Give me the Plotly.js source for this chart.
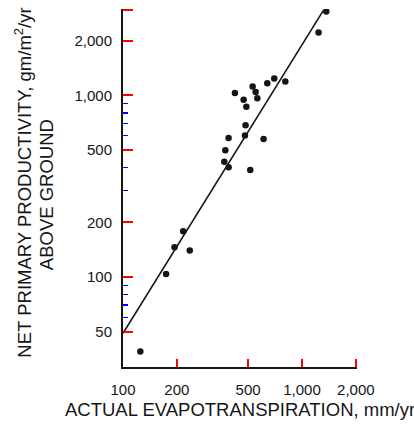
<!DOCTYPE html>
<html>
<head>
<meta charset="utf-8">
<script src="https://cdn.plot.ly/plotly-3.0.1.min.js"></script>
<style>
html,body{margin:0;padding:0;background:#fff;}
#chart{width:414px;height:434px;}
</style>
</head>
<body>
<div id="chart"></div>
<script>
// Observed sites: actual evapotranspiration (mm/yr) vs above-ground NPP (gm/m2/yr)
const aetValues = [125, 174, 194, 217, 236, 368, 389, 373, 389, 422, 472, 489, 484, 480, 514, 530, 551, 563, 610, 640, 700, 807, 1238, 1367];
const nppValues = [39, 104, 146, 179, 140, 432, 402, 499, 583, 1031, 947, 867, 686, 601, 389, 1120, 1044, 965, 575, 1167, 1240, 1194, 2219, 2896];

// Regression line end points
const fitX = [100, 1320];
const fitY = [49, 2950];

// Axis ticks
const xTickVals = [100, 200, 500, 1000, 2000];
const xTickText = ["100", "200", "500", "1,000", "2,000"];
const yTickVals = [50, 100, 200, 500, 1000, 2000];
const yTickText = ["50", "100", "200", "500", "1,000", "2,000"];
const yMarkVals = [50, 100, 200, 500, 1000, 2000, 2950];
const yMinorVals = [60, 70, 80, 90, 300, 400, 600, 700, 800, 900];

const xTitle = "ACTUAL EVAPOTRANSPIRATION, mm/yr";
const yTitleLine1 = "NET PRIMARY PRODUCTIVITY, gm/m<sup>2</sup>/yr";
const yTitleLine2 = "ABOVE GROUND";

const ink = "#151515";
const textInk = "#161616";
const font = "Liberation Sans, Arial, Helvetica, sans-serif";
const xMin = 100, xMax = 2030, yMin = 32, yMax = 2990;
const xRange = [Math.log10(xMin), Math.log10(xMax)];
const yRange = [Math.log10(yMin), Math.log10(yMax)];
const clear = "rgba(0,0,0,0)";

const traces = [
  {x: fitX, y: fitY, type: "scatter", mode: "lines", line: {color: ink, width: 1.6}},
  {x: aetValues, y: nppValues, type: "scatter", mode: "markers", marker: {color: ink, size: 6.5}},
  {x: [100], y: [100], xaxis: "x2", yaxis: "y2", type: "scatter", mode: "markers", marker: {opacity: 0, size: 1}},
  {x: [100], y: [100], xaxis: "x", yaxis: "y3", type: "scatter", mode: "markers", marker: {opacity: 0, size: 1}}
];

const labelFont = {family: font, size: 15, color: textInk};
const titleFont = {family: font, size: 18.5, color: textInk};

const layout = {
  width: 414, height: 434,
  margin: {l: 123, r: 57, t: 9, b: 67, pad: 0},
  showlegend: false,
  xaxis: {
    type: "log", range: xRange,
    tickmode: "array", tickvals: xTickVals,
    ticks: "inside", ticklen: 8, tickwidth: 2, tickcolor: "red",
    showticklabels: false,
    showline: true, linecolor: ink, linewidth: 2, showgrid: false, zeroline: false
  },
  yaxis: {
    type: "log", range: yRange,
    tickmode: "array", tickvals: yMarkVals,
    ticks: "inside", ticklen: 10, tickwidth: 2, tickcolor: "red",
    showticklabels: false,
    showline: true, linecolor: ink, linewidth: 2, showgrid: false, zeroline: false
  },
  xaxis2: {
    type: "log", range: xRange, overlaying: "x", anchor: "y2", side: "bottom",
    tickmode: "array", tickvals: xTickVals, ticktext: xTickText,
    ticks: "outside", ticklen: 9, tickcolor: clear, tickfont: labelFont,
    showline: false, showgrid: false, zeroline: false
  },
  yaxis2: {
    type: "log", range: yRange, overlaying: "y", anchor: "x2", side: "left",
    tickmode: "array", tickvals: yTickVals, ticktext: yTickText,
    ticks: "outside", ticklen: 7, tickcolor: clear, tickfont: labelFont,
    showline: false, showgrid: false, zeroline: false
  },
  yaxis3: {
    type: "log", range: yRange, overlaying: "y", anchor: "x", side: "left",
    tickmode: "array", tickvals: yMinorVals,
    ticks: "inside", ticklen: 5, tickwidth: 1.5, tickcolor: "blue",
    showticklabels: false, showline: false, showgrid: false, zeroline: false
  },
  annotations: [
    {
      text: yTitleLine1, xref: "paper", yref: "paper", x: 0, y: 0.515,
      xanchor: "center", yanchor: "middle", xshift: -100, textangle: -90,
      showarrow: false, font: titleFont
    },
    {
      text: yTitleLine2, xref: "paper", yref: "paper", x: 0, y: 0.48,
      xanchor: "center", yanchor: "middle", xshift: -77, textangle: -90,
      showarrow: false, font: titleFont
    },
    {
      text: xTitle, xref: "paper", yref: "paper", x: 0.5, y: -0.12,
      xanchor: "center", yanchor: "middle", showarrow: false,
      font: titleFont
    }
  ]
};

Plotly.newPlot("chart", traces, layout, {displayModeBar: false, staticPlot: true});
</script>
</body>
</html>
